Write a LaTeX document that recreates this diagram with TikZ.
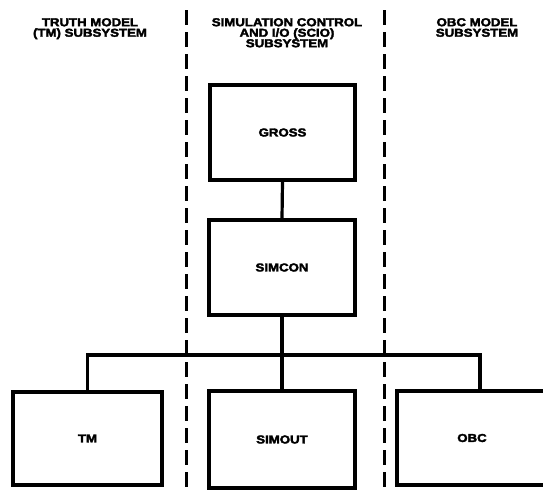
\documentclass[tikz,border=0pt]{standalone}
\usepackage{fontspec}
\newfontfamily\lbl{Liberation Sans Bold}[FakeStretch=1.15, FakeBold=3]
\begin{document}
\begin{tikzpicture}[x=1pt,y=-1pt,
  txt/.style={font=\lbl\fontsize{11.5}{10.5}\selectfont},
  title/.style={txt, align=center, inner sep=0pt, anchor=north},
  block/.style={draw, line width=3.2pt, rectangle, txt, inner sep=0pt},
  conn/.style={line width=3.2pt},
  divider/.style={line width=3pt, dash pattern=on 15pt off 7pt}]
\useasboundingbox (0,0) rectangle (543,493);
% dividers
\draw[divider] (186,10) -- (186,493);
\draw[divider] (384,10) -- (384,493);
% titles
\node[title] (t1) at (90,18) {TRUTH MODEL\\(TM) SUBSYSTEM};
\node[title] (t2) at (287,18) {SIMULATION CONTROL\\AND I/O (SCIO)\\SUBSYSTEM};
\node[title] (t3) at (477,18) {OBC MODEL\\SUBSYSTEM};
% blocks
\node[block, minimum width=145pt, minimum height=95pt] (GROSS) at (282.5,132.5) {GROSS};
\node[block, minimum width=146pt, minimum height=95pt] (SIMCON) at (282,267.5) {SIMCON};
\node[block, minimum width=146pt, minimum height=97pt] (SIMOUT) at (282,439.5) {SIMOUT};
\node[block, minimum width=149pt, minimum height=93pt] (TM) at (87.5,438.5) {TM};
\node[block, minimum width=150pt, minimum height=94pt] (OBC) at (472,438) {OBC};
% connectors
\draw[conn] (GROSS.south) -- (SIMCON.north);
\draw[conn] (SIMCON.south) -- (SIMOUT.north);
\coordinate (bus) at (SIMCON.south |- 0,355);
\draw[conn] (TM.north) |- (bus) -| ([xshift=8pt]OBC.north);
\end{tikzpicture}
\end{document}
